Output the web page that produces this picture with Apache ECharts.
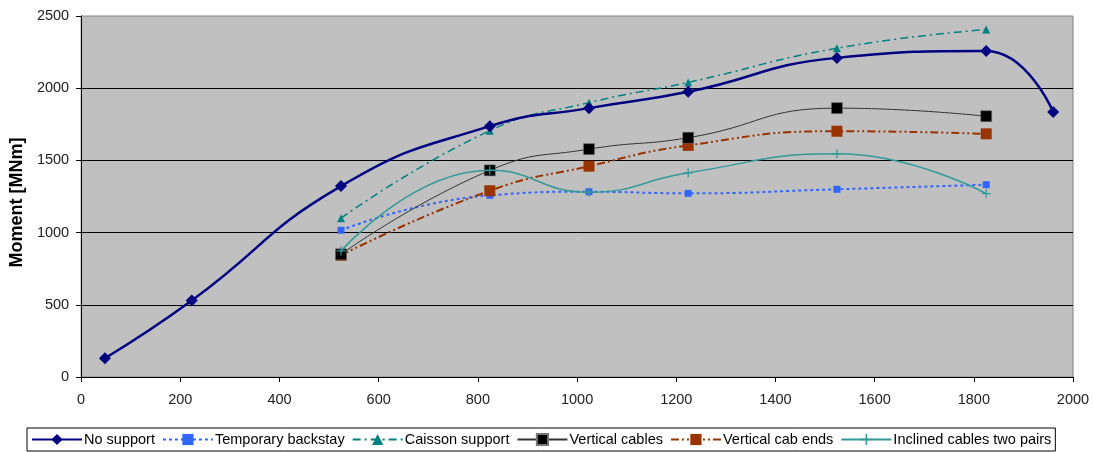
<!DOCTYPE html>
<html>
<head>
<meta charset="utf-8">
<script src="https://cdn.jsdelivr.net/npm/echarts@6/dist/echarts.min.js"></script>
<style>
  html, body { margin: 0; padding: 0; background: #fff; }
  #chart { width: 1093px; height: 452px; }
</style>
</head>
<body>
<div id="chart"></div>
<script>
const noSupportX = [48, 223, 524, 824, 1024, 1224, 1524, 1825, 1960];
const noSupport = [130, 530, 1322, 1737, 1862, 1975, 2210, 2258, 1835];
const caseX = [524, 824, 1024, 1224, 1524, 1825];
const temporaryBackstay = [1016, 1258, 1283, 1272, 1300, 1332];
const caissonSupport = [1100, 1706, 1900, 2040, 2277, 2406];
const verticalCables = [850, 1431, 1578, 1657, 1862, 1806];
const verticalCabEnds = [843, 1290, 1460, 1604, 1702, 1684];
const inclinedCables = [873, 1431, 1280, 1414, 1546, 1270];
const xTicks = [0, 200, 400, 600, 800, 1000, 1200, 1400, 1600, 1800, 2000];
const yTicks = [0, 500, 1000, 1500, 2000, 2500];

const pairs = (xs, ys) => ys.map((y, i) => [xs[i], y]);
const plusPath = 'path://M4.3,0H5.7V4.3H10V5.7H5.7V10H4.3V5.7H0V4.3H4.3Z';

const chart = echarts.init(document.getElementById('chart'));
chart.setOption({
    animation: false,
    textStyle: { fontFamily: 'Liberation Sans, Arial, sans-serif' },
    grid: {
        left: 80, right: 20, top: 16, bottom: 75,
        show: true,
        backgroundColor: '#c0c0c0',
        borderColor: '#808080',
        borderWidth: 1
    },
    xAxis: {
        type: 'value',
        min: xTicks[0],
        max: xTicks[xTicks.length - 1],
        interval: 200,
        axisLine: { onZero: false, lineStyle: { color: '#000', width: 1 } },
        axisTick: { show: true, length: 5, lineStyle: { color: '#000' } },
        axisLabel: { fontSize: 14.5, color: '#222', margin: 15, formatter: v => String(v) },
        splitLine: { show: false }
    },
    yAxis: {
        type: 'value',
        min: yTicks[0],
        max: yTicks[yTicks.length - 1],
        interval: 500,
        name: 'Moment [MNm]',
        nameLocation: 'middle',
        nameGap: 54,
        nameTextStyle: { fontSize: 18, fontWeight: 'bold', color: '#000', padding: [0, 0, 0, -12] },
        axisLine: { show: true, lineStyle: { color: '#000', width: 1 } },
        axisTick: { show: true, length: 5, lineStyle: { color: '#000' } },
        axisLabel: { fontSize: 14.5, color: '#222', margin: 12, formatter: v => String(v) },
        splitLine: { show: true, showMinLine: false, showMaxLine: false, lineStyle: { color: '#000', width: 1 } }
    },
    legend: {
        left: 27,
        top: 428,
        padding: [4, 4, 4, 4],
        borderColor: '#000',
        borderWidth: 1,
        itemWidth: 50,
        itemHeight: 14,
        itemGap: 7,
        textStyle: { fontSize: 14.5, color: '#000', padding: [0, 0, 0, -3] },
        data: ['No support', 'Temporary backstay', 'Caisson support', 'Vertical cables', 'Vertical cab ends', 'Inclined cables two pairs']
    },
    series: [
        {
            name: 'No support',
            type: 'line',
            smooth: 0.5,
            data: pairs(noSupportX, noSupport),
            symbol: 'diamond',
            symbolSize: 12,
            lineStyle: { color: '#000080', width: 2.5 },
            itemStyle: { color: '#000080' },
            z: 8
        },
        {
            name: 'Temporary backstay',
            type: 'line',
            smooth: 0.5,
            data: pairs(caseX, temporaryBackstay),
            symbol: 'rect',
            symbolSize: 7,
            lineStyle: { color: '#3366ff', width: 2, type: [3, 3] },
            itemStyle: { color: '#3366ff' },
            z: 3
        },
        {
            name: 'Caisson support',
            type: 'line',
            smooth: 0.5,
            data: pairs(caseX, caissonSupport),
            symbol: 'triangle',
            symbolSize: 8,
            lineStyle: { color: '#008080', width: 1.5, type: [8, 4, 2, 4] },
            itemStyle: { color: '#008080' },
            z: 4
        },
        {
            name: 'Vertical cables',
            type: 'line',
            smooth: 0.5,
            data: pairs(caseX, verticalCables),
            symbol: 'rect',
            symbolSize: 11,
            lineStyle: { color: '#333', width: 1 },
            itemStyle: { color: '#000', borderColor: '#777', borderWidth: 0.5 },
            z: 5
        },
        {
            name: 'Vertical cab ends',
            type: 'line',
            smooth: 0.5,
            data: pairs(caseX, verticalCabEnds),
            symbol: 'rect',
            symbolSize: 11,
            lineStyle: { color: '#993300', width: 2, type: [8, 3, 2, 3, 2, 3] },
            itemStyle: { color: '#993300' },
            z: 4
        },
        {
            name: 'Inclined cables two pairs',
            type: 'line',
            smooth: 0.5,
            data: pairs(caseX, inclinedCables),
            symbol: plusPath,
            symbolSize: 9,
            lineStyle: { color: '#339999', width: 1.5 },
            itemStyle: { color: '#339999' },
            z: 6
        }
    ]
});
</script>
</body>
</html>
